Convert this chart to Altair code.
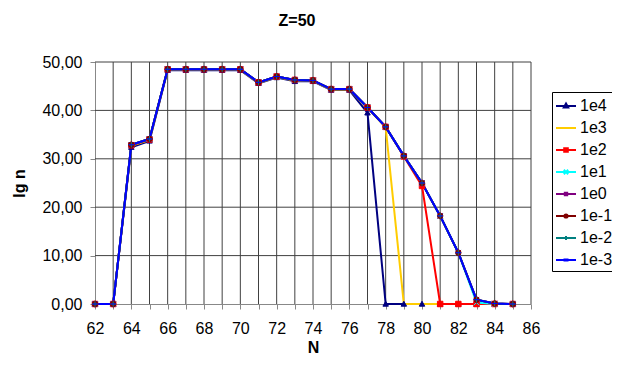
import altair as alt
import pandas as pd

N = list(range(62, 86))
series = ["1e4", "1e3", "1e2", "1e1", "1e0", "1e-1", "1e-2", "1e-3"]
colors = ["#000080", "#FFCC00", "#FF0000", "#00FFFF", "#800080", "#800000", "#008080", "#0000FF"]

v_1e4 = [0, 0, 32.4, 33.7, 48.3, 48.3, 48.3, 48.3, 48.3, 45.6, 46.8, 46.0, 46.0, 44.2, 44.2, 39.5, 0, 0, 0, 0, 0, 0, 0, 0]
v_1e3 = [0, 0, 32.7, 33.9, 48.4, 48.4, 48.4, 48.4, 48.4, 45.7, 46.9, 46.2, 46.1, 44.3, 44.3, 40.5, 36.5, 0, 0, 0, 0, 0, 0, 0]
v_1e2 = [0, 0, 32.8, 34.0, 48.5, 48.5, 48.5, 48.5, 48.5, 45.8, 47.0, 46.3, 46.2, 44.4, 44.4, 40.6, 36.6, 30.5, 24.4, 0, 0, 0, 0, 0]
v_1e1 = [0, 0, 32.9, 34.1, 48.5, 48.5, 48.5, 48.5, 48.5, 45.8, 47.0, 46.3, 46.2, 44.4, 44.4, 40.6, 36.6, 30.6, 25.0, 18.2, 10.6, 0.3, 0, 0]
v_1e0 = [0, 0, 32.9, 34.1, 48.5, 48.5, 48.5, 48.5, 48.5, 45.8, 47.0, 46.3, 46.2, 44.4, 44.4, 40.6, 36.6, 30.6, 25.0, 18.2, 10.6, 0.9, 0.1, 0]
v_1em1 = [0, 0, 32.9, 34.1, 48.5, 48.5, 48.5, 48.5, 48.5, 45.8, 47.0, 46.3, 46.2, 44.4, 44.4, 40.6, 36.6, 30.6, 25.0, 18.2, 10.6, 0.9, 0.1, 0]
v_1em2 = [0, 0, 32.9, 34.1, 48.5, 48.5, 48.5, 48.5, 48.5, 45.8, 47.0, 46.3, 46.2, 44.4, 44.4, 40.6, 36.6, 30.6, 25.0, 18.2, 10.6, 0.9, 0.1, 0]
v_1em3 = [0, 0, 32.9, 34.1, 48.5, 48.5, 48.5, 48.5, 48.5, 45.8, 47.0, 46.3, 46.2, 44.4, 44.4, 40.6, 36.6, 30.6, 25.0, 18.2, 10.6, 0.9, 0.1, 0]

values = [v_1e4, v_1e3, v_1e2, v_1e1, v_1e0, v_1em1, v_1em2, v_1em3]

x_ticks = list(range(62, 87))
y_ticks = [0, 10, 20, 30, 40, 50]
grid_x = list(range(63, 87))
grid_y = [10, 20, 30, 40, 50]

rows = []
for s, vals in zip(series, values):
    for n, v in zip(N, vals):
        rows.append({"N": n, "v": v, "series": s})
df = pd.DataFrame(rows)

# marker shapes on the data points
marker_paths = [
    "M0,-1L1,0.8H-1Z",
    "M0,0",
    "square",
    "M-1,-1L1,1M-1,1L1,-1",
    "M-1,-1L1,1M-1,1L1,-1M0,-1.3V1.3",
    "circle",
    "M-1,0H1M0,-1V1",
    "M-1,0H1",
]
# legend symbols: line + marker
ln = "M-1,0H1"
legend_paths = [
    ln + "M0,-0.25L0.22,0.15H-0.22Z",
    ln,
    ln + "M-0.18,-0.18H0.18V0.18H-0.18Z",
    ln + "M-0.22,-0.22L0.22,0.22M-0.22,0.22L0.22,-0.22",
    ln + "M-0.12,-0.12H0.12V0.12H-0.12Z",
    ln + "M0.16,0A0.16,0.16 0 1 1 -0.16,0A0.16,0.16 0 1 1 0.16,0Z",
    ln + "M0,-0.2V0.2",
    ln + "M-0.15,-0.05H0.15V0.05H-0.15Z",
]

FONT = "Liberation Sans"
GRID = "#404040"

def cscale():
    return alt.Scale(domain=series, range=colors)

def xenc(field):
    return alt.X(field, title="N",
                 scale=alt.Scale(domain=[62, 86], nice=False, zero=False),
                 axis=alt.Axis(values=x_ticks, grid=False,
                               labelExpr="datum.value % 2 == 0 ? datum.label : ''",
                               labelOverlap=False, labelFlush=False,
                               tickSize=5, labelPadding=11, titlePadding=3))

def yenc(field):
    return alt.Y(field, title="lg n",
                 scale=alt.Scale(domain=[0, 50], nice=False),
                 axis=alt.Axis(values=y_ticks, grid=False,
                               labelExpr="replace(format(datum.value, '.2f'), '.', ',')",
                               labelOverlap=False, labelFlush=False,
                               tickSize=5, labelPadding=8, titlePadding=14))

vgrid = alt.Chart(pd.DataFrame({"N": grid_x})).mark_rule(color=GRID, strokeWidth=1).encode(
    x=xenc("N:Q"))
hgrid = alt.Chart(pd.DataFrame({"v": grid_y})).mark_rule(color=GRID, strokeWidth=1).encode(
    y=yenc("v:Q"))

lines = alt.Chart(df).mark_line(strokeWidth=2).encode(
    x=xenc("N:Q"), y=yenc("v:Q"),
    color=alt.Color("series:N", scale=cscale(), legend=None),
    detail="series:N",
)

points = alt.Chart(df).mark_point(filled=True, size=30, strokeWidth=1, opacity=1).encode(
    x=xenc("N:Q"), y=yenc("v:Q"),
    color=alt.Color("series:N", scale=cscale(), legend=None),
    stroke=alt.Stroke("series:N", scale=cscale(), legend=None),
    shape=alt.Shape("series:N", scale=alt.Scale(domain=series, range=marker_paths), legend=None),
)

legend_layer = alt.Chart(df).transform_filter("false").mark_point(
    filled=False, opacity=1, strokeWidth=2).encode(
    x=xenc("N:Q"), y=yenc("v:Q"),
    color=alt.Color("series:N", scale=cscale(), legend=alt.Legend(title=None)),
    shape=alt.Shape("series:N", scale=alt.Scale(domain=series, range=legend_paths),
                    legend=alt.Legend(title=None)),
)

chart = alt.layer(vgrid, hgrid, lines, points, legend_layer).resolve_scale(
    shape="independent", color="independent", stroke="independent"
).properties(
    width=436, height=242,
    autosize=alt.AutoSizeParams(type="none"),
    padding={"left": 87, "top": 54, "right": 81, "bottom": 53},
    title=alt.TitleParams("Z=50", fontSize=16, fontWeight="bold", font=FONT,
                          frame="group", anchor="middle", offset=25, dx=-16),
).configure_view(stroke=None).configure_axis(
    labelFont=FONT, titleFont=FONT, labelFontSize=16, titleFontSize=16,
    titleFontWeight="bold", labelColor="#000", titleColor="#000",
    domainColor="#888", tickColor="#888",
).configure_legend(
    orient="none", legendX=457, legendY=30,
    labelFont=FONT, labelFontSize=16, labelColor="#000",
    symbolSize=400, symbolStrokeWidth=2, rowPadding=3, labelOffset=3,
    strokeColor="#000", padding=3,
)

chart.save("out.html", embed_options={"renderer": "svg", "actions": False})
